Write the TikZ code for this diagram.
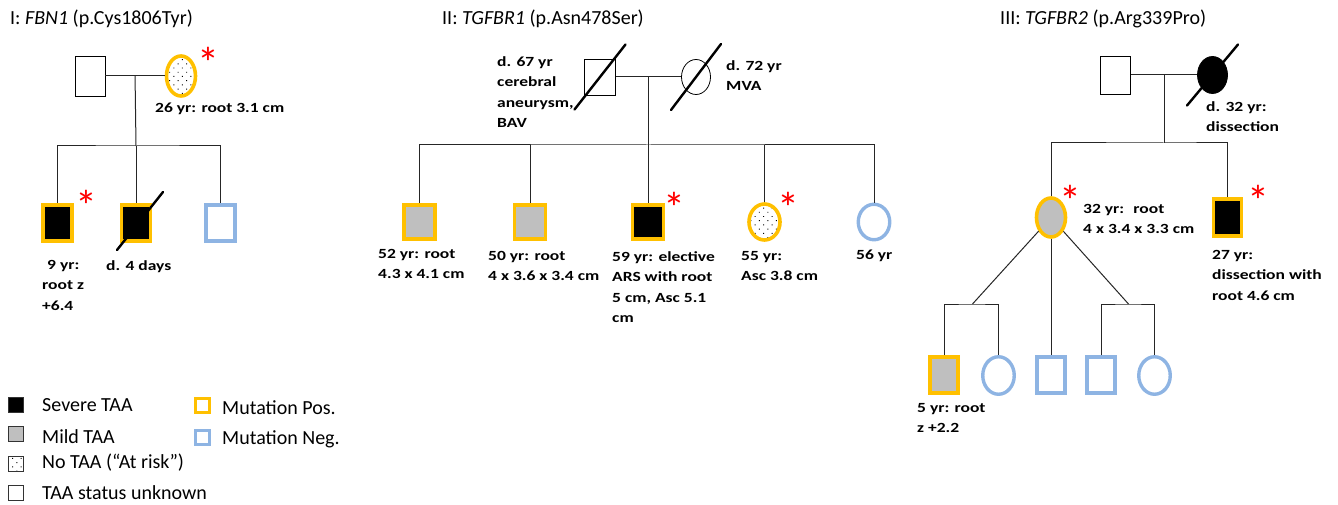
\documentclass[tikz,border=0pt]{standalone}
\usepackage{fontspec}
\setmainfont{Carlito}
\newfontfamily\labelfont[FakeStretch=1.25]{Carlito}
\usetikzlibrary{shapes.geometric,patterns.meta,calc}
\definecolor{mutpos}{HTML}{FFC000}
\definecolor{mutneg}{HTML}{8EB4E3}
\definecolor{mildgray}{HTML}{BFBFBF}
\definecolor{markred}{HTML}{FF0000}
\newcommand{\starsign}{\raisebox{-19.7pt}[13.7pt][0pt]{\makebox[13pt]{*}}}
\tikzset{
  person/.style={draw=black,line width=0.8pt,inner sep=0pt},
  male/.style={person,rectangle},
  female/.style={person,ellipse},
  mutp/.style={draw=mutpos,line width=3.6pt},
  mutn/.style={draw=mutneg,line width=3.4pt},
  severe/.style={fill=black},
  mild/.style={fill=mildgray},
  atrisk/.style={pattern={Dots[distance=6pt,radius=0.7pt,angle=45]}},
  link/.style={draw=black!85,line width=1pt},
  slash/.style={line width=2.4pt,line cap=round},
  redmark/.style={text=markred,inner sep=0pt,font=\fontsize{44}{44}\selectfont},
  info/.style={anchor=north west,align=left,inner sep=0pt,font=\labelfont\bfseries\fontsize{14}{20.5}\selectfont},
  heading/.style={anchor=base west,inner sep=0pt,font=\fontsize{20}{24}\selectfont},
  keytext/.style={anchor=base west,inner sep=0pt,font=\fontsize{20}{24}\selectfont},
  keybox/.style={draw=black!80,line width=0.8pt,minimum size=15,inner sep=0pt}
}
\begin{document}
\begin{tikzpicture}[x=1pt,y=-1pt]
  \useasboundingbox (0,0) rectangle (1338,505);
  % family I
  \node[heading] (tI) at (10,25) {I: \textit{FBN1} (p.Cys1806Tyr)};
  \node[male,minimum width=30,minimum height=40] (I1) at (90,76) {};
  \node[female,mutp,atrisk,minimum width=29,minimum height=40] (I2) at (181,76) {};
  \node[redmark] (sI2) at (208,52) {\starsign};
  \node[info] (lI2) at (155,103) {26 yr: root 3.1 cm};
  \node[male,mutp,severe,minimum width=29,minimum height=36] (I3) at (57.5,223) {};
  \node[male,mutp,severe,minimum width=29,minimum height=36] (I4) at (136,223) {};
  \node[male,mutn,minimum width=29,minimum height=36] (I5) at (220.5,223) {};
  \node[redmark] (sI3) at (86,195) {\starsign};
  \node[info] (lI3) at (42,260) {\hspace{5pt}9 yr:\\root z\\+6.4};
  \node[info] (lI4) at (106,260) {d. 4 days};
  \draw[slash] ([shift={(-19,27)}]I4.center) -- ([shift={(27,-31)}]I4.center);
  \coordinate (Im) at ($(I1.east)!0.5!(I2.west)$);
  \coordinate (Is) at (136,146);
  \draw[link] (I1) -- (I2);
  \draw[link] (Im) -- (Is);
  \draw[link] (I3.north) |- (Is) -| (I5.north);
  \draw[link] (Is) -- (I4.north);

  % family II
  \node[heading] (tII) at (442,25) {II: \textit{TGFBR1} (p.Asn478Ser)};
  \node[male,minimum width=31,minimum height=36] (II1) at (600,77) {};
  \node[female,minimum width=29,minimum height=35] (II2) at (696,77) {};
  \draw[slash] ([shift={(-25.5,32.5)}]II1.center) -- ([shift={(25.5,-32.5)}]II1.center);
  \draw[slash] ([shift={(-25,33)}]II2.center) -- ([shift={(25,-33)}]II2.center);
  \node[info] (lII1) at (497,56) {d. 67 yr\\cerebral\\aneurysm,\\BAV};
  \node[info] (lII2) at (726,60) {d. 72 yr\\MVA};
  \node[male,mutp,mild,minimum width=31,minimum height=34] (II3) at (419.5,222) {};
  \node[male,mutp,mild,minimum width=31,minimum height=34] (II4) at (530,222) {};
  \node[male,mutp,severe,minimum width=31,minimum height=34] (II5) at (648,222) {};
  \node[female,mutp,atrisk,minimum width=31,minimum height=36] (II6) at (764.5,222) {};
  \node[female,mutn,minimum width=31.5,minimum height=35.5] (II7) at (874,222) {};
  \node[redmark] (sII5) at (674,197) {\starsign};
  \node[redmark] (sII6) at (788,197) {\starsign};
  \node[info] (lII3) at (378,249) {52 yr: root\\4.3 x 4.1 cm};
  \node[info] (lII4) at (488,251) {50 yr: root\\4 x 3.6 x 3.4 cm};
  \node[info] (lII5) at (612,251) {59 yr: elective\\ARS with root\\5 cm, Asc 5.1\\cm};
  \node[info] (lII6) at (741,251) {55 yr:\\Asc 3.8 cm};
  \node[info] (lII7) at (856,250) {56 yr};
  \coordinate (IIm) at ($(II1.east)!0.5!(II2.west)$);
  \coordinate (IIs) at (IIm |- 0,145);
  \draw[link] (II1) -- (II2);
  \draw[link] (IIm) -- (IIs);
  \draw[link] (II3.north) |- (IIs) -| (II7.north);
  \foreach \k in {II4,II5,II6}
    \draw[link] (\k.north) -- (\k.north |- IIs);

  % family III
  \node[heading] (tIII) at (1000,25) {III: \textit{TGFBR2} (p.Arg339Pro)};
  \node[male,minimum width=30,minimum height=38] (III1) at (1115.5,75) {};
  \node[female,severe,minimum width=30,minimum height=37] (III2) at (1212.5,75) {};
  \draw[slash] ([shift={(-25.5,30.5)}]III2.center) -- ([shift={(25.5,-30.5)}]III2.center);
  \node[info] (lIII2) at (1206,101) {d. 32 yr:\\dissection};
  \node[female,mutp,mild,minimum width=29,minimum height=39] (III3) at (1051,217.5) {};
  \node[male,mutp,severe,minimum width=28,minimum height=37] (III4) at (1227.5,217.5) {};
  \node[redmark] (sIII3) at (1070,190) {\starsign};
  \node[redmark] (sIII4) at (1258,190) {\starsign};
  \node[info] (lIII3) at (1083,204) {32 yr:~ root\\4 x 3.4 x 3.3 cm};
  \node[info] (lIII4) at (1212,250) {27 yr:\\dissection with\\root 4.6 cm};
  \coordinate (IIIm) at ($(III1.east)!0.5!(III2.west)$);
  \coordinate (IIIs) at (IIIm |- 0,143);
  \draw[link] (III1) -- (III2);
  \draw[link] (IIIm) -- (IIIs);
  \draw[link] (III3.north) |- (IIIs) -| (III4.north);
  \node[male,mutp,mild,minimum width=28,minimum height=36] (III5) at (944,375) {};
  \node[female,mutn,minimum width=31.5,minimum height=37.5] (III6) at (998.5,375.5) {};
  \node[male,mutn,minimum width=28,minimum height=36] (III7) at (1051,375) {};
  \node[male,mutn,minimum width=28,minimum height=36] (III8) at (1101,375) {};
  \node[female,mutn,minimum width=31.5,minimum height=37.5] (III9) at (1154.5,375.5) {};
  \node[info] (lIII5) at (917,403) {5 yr: root\\z +2.2};
  \coordinate (L) at (972.5,304);
  \coordinate (R) at (1128.5,304);
  \draw[link] (III3) -- (L);
  \draw[link] (III3) -- (R);
  \draw[link] (III3) -- (III7.north);
  \draw[link] (III5.north) |- (L) -| (III6.north);
  \draw[link] (III8.north) |- (R) -| (III9.north);

  % legend
  \node[keybox,fill=black] (k1) at (16,405) {};
  \node[keybox,fill=mildgray] (k2) at (16,434) {};
  \node[keybox,atrisk] (k3) at (16,464) {};
  \node[keybox] (k4) at (16,493) {};
  \node[keybox,draw=mutpos,line width=3pt,minimum size=14] (k5) at (202,405) {};
  \node[keybox,draw=mutneg,line width=3pt,minimum size=14] (k6) at (202,437) {};
  \node[keytext] (t1) at (42,411.5) {Severe TAA};
  \node[keytext] (t2) at (42,443) {Mild TAA};
  \node[keytext] (t3) at (42,468.5) {No TAA (“At risk”)};
  \node[keytext] (t4) at (42,499.5) {TAA status unknown};
  \node[keytext] (t5) at (222,414.5) {Mutation Pos.};
  \node[keytext] (t6) at (222,444.5) {Mutation Neg.};
\end{tikzpicture}
\end{document}
